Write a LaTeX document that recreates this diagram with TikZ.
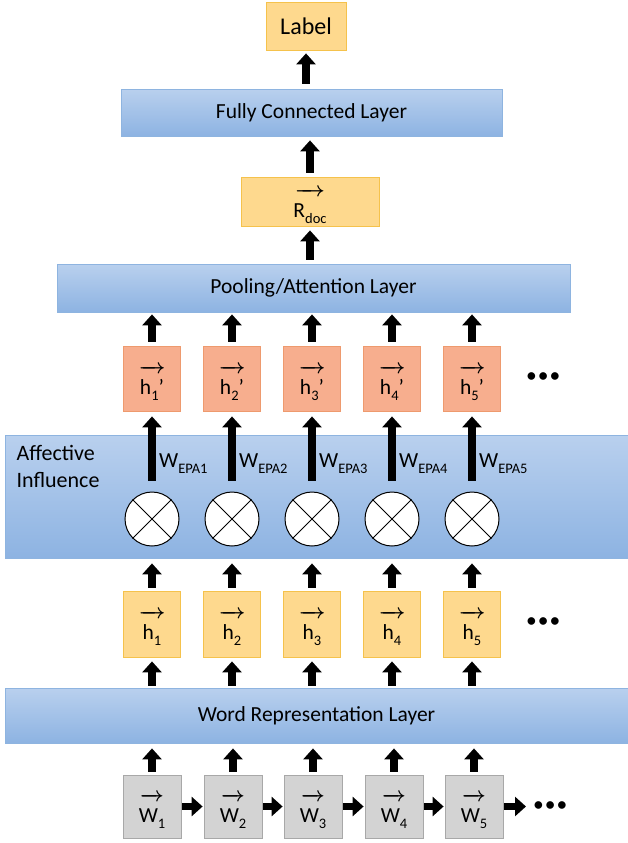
\documentclass[tikz,border=0pt]{standalone}
\usepackage{fontspec}
\setmainfont{Carlito}
\usetikzlibrary{arrows.meta}
\definecolor{laytop}{HTML}{B9D0EE}
\definecolor{laybot}{HTML}{8DB3E2}
\definecolor{layline}{HTML}{8EB4E0}
\definecolor{yfill}{HTML}{FED98E}
\definecolor{yline}{HTML}{F5C24C}
\definecolor{ofill}{HTML}{F7AE8E}
\definecolor{oline}{HTML}{EE9A6E}
\definecolor{gfill}{HTML}{D3D3D3}
\definecolor{gline}{HTML}{A8A8A8}
\newcommand{\vecl}[2][1.25em]{\begin{tabular}{@{}c@{}}\makebox[#1]{\boldmath\rightarrowfill}\\[-0.5ex]#2\end{tabular}}
\newcommand{\sub}[1]{\raisebox{-0.28em}{\fontsize{14.5}{14.5}\selectfont #1}}
\begin{document}
\begin{tikzpicture}[x=1pt,y=-1pt,
  font=\fontsize{21.5}{26}\selectfont,
  layer/.style={draw=layline, line width=0.8pt, top color=laytop, bottom color=laybot, inner sep=0pt},
  ybox/.style={draw=yline, line width=0.8pt, fill=yfill, inner sep=0pt},
  obox/.style={draw=oline, line width=0.8pt, fill=ofill, inner sep=0pt, minimum width=57pt, minimum height=65pt},
  gbox/.style={draw=gline, line width=0.8pt, fill=gfill, inner sep=0pt, minimum width=58pt, minimum height=63pt},
  hbox/.style={ybox, minimum width=57pt, minimum height=66pt},
  mult/.style={circle, draw=black, line width=1pt, fill=white, minimum size=54pt, inner sep=0pt},
  barrow/.style={line width=7.5pt, -{Triangle[width=19pt,length=11pt]}},
  dots/.style={inner sep=0pt}
]
\useasboundingbox (0,0) rectangle (628,843);

% top part
\node[ybox, minimum width=80pt, minimum height=48pt, font=\fontsize{24}{28}\selectfont] (label) at (306,26) {Label};
\node[layer, minimum width=381pt, minimum height=47pt] (fc) at (311.5,112.5) {Fully Connected Layer};
\node[ybox, minimum width=138pt, minimum height=49pt] (rdoc) at (310,201.5) {\vecl[1.4em]{R\sub{doc}}};
\node[layer, minimum width=513pt, minimum height=48pt] (pool) at (313.5,288) {Pooling/Attention Layer};

% panel and word representation
\node[layer, minimum width=623pt, minimum height=123pt] (panel) at (316.5,496.5) {};
\node[anchor=north west, align=left, font=\fontsize{22}{27}\selectfont] (ai) at (13,442) {Affective\\Influence};
\node[layer, minimum width=623pt, minimum height=55pt] (wrep) at (316.5,715.5) {Word Representation Layer};

% columns
\foreach \i/\x/\xw in {1/152/152, 2/232/233, 3/312/313, 4/392/394, 5/472/474} {
  \node[obox] (hp\i) at (\x,378.5) {\vecl{h\sub{\i}’}};
  \node[mult] (c\i) at (\x,519) {};
  \draw[line width=1pt] (c\i.north west) -- (c\i.south east) (c\i.north east) -- (c\i.south west);
  \node[anchor=west, inner sep=0pt] (we\i) at (\x+7,464) {W\sub{EPA\i}};
  \node[hbox] (h\i) at (\x,624) {\vecl{h\sub{\i}}};
  \node[gbox] (w\i) at (\xw,806.5) {\vecl[1.1em]{W\sub{\i}}};
  % arrows
  \draw[barrow, shorten <=3pt, shorten >=5pt] (w\i.north) -- (w\i.north |- wrep.south);
  \draw[barrow, shorten <=2pt, shorten >=4pt] (h\i.south |- wrep.north) -- (h\i.south);
  \draw[barrow, shorten <=3pt, shorten >=5pt] (h\i.north) -- (h\i.north |- panel.south);
  \draw[barrow, shorten <=11pt, shorten >=5pt] (c\i.north) -- (hp\i.south);
  \draw[barrow, shorten <=4pt, shorten >=2pt] (hp\i.north) -- (hp\i.north |- pool.south);
}
\draw[barrow, shorten <=4pt, shorten >=4pt] (rdoc.north |- pool.north) -- (rdoc.south);
\draw[barrow, shorten <=4pt, shorten >=4pt] (rdoc.north) -- (rdoc.north |- fc.south);
\draw[barrow, shorten <=5pt, shorten >=3pt] (label.south |- fc.north) -- (label.south);

% horizontal arrows between words
\foreach \a/\b in {1/2, 2/3, 3/4, 4/5} {
  \draw[barrow, shorten <=1pt, shorten >=1pt] (w\a.east) -- (w\b.west);
}
\coordinate (wend) at (526,806.5);
\draw[barrow, shorten <=1pt] (w5.east) -- (wend);

% ellipses
\node[dots, anchor=west] (d1) at (526,378) {•\hspace{1pt}•\hspace{1pt}•};
\node[dots, anchor=west] (d2) at (526,623) {•\hspace{1pt}•\hspace{1pt}•};
\node[dots, anchor=west] (d3) at (533,807) {•\hspace{1pt}•\hspace{1pt}•};
\end{tikzpicture}
\end{document}
